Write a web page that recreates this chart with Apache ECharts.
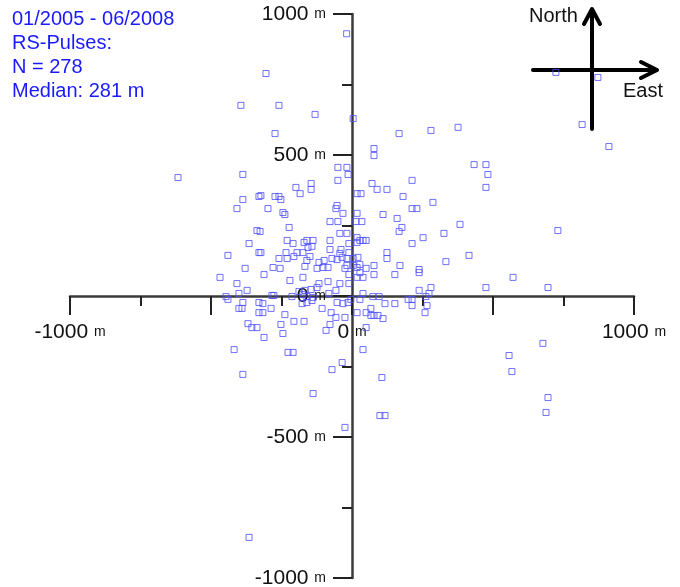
<!DOCTYPE html>
<html>
<head>
<meta charset="utf-8">
<script src="https://cdn.jsdelivr.net/npm/echarts@6/dist/echarts.min.js"></script>
<style>
html, body { margin: 0; padding: 0; background: #fff; }
#main { width: 680px; height: 587px; }
</style>
</head>
<body>
<div id="main"></div>
<script>
// legend text in the upper left
var infoLines = ['01/2005 - 06/2008', 'RS-Pulses:', 'N = 278', 'Median: 281 m'];

// labelled ticks (metres)
var xLabelValues = [-1000, 0, 1000];
var yLabelValues = [-1000, -500, 0, 500, 1000];

// pulse offsets in metres: east (x) and north (y)
var east = [
  -19, 4, -131, 167, 280, 376, 78, 78, -50, -18,
  -305, -394, -259, -273, 723, 872, 816, 911, 433, 475,
  482, 475, 383, 730, 415, 571, 475, 695, 677, 557,
  567, 695, 688, -387, -71, 106, -138, 99, 117, -25,
  -365, -617, -387, -330, -387, -408, -337, -365, -330, -440,
  -379, -468, -408, -372, -401, -447, -440, -330, -387, -401,
  -390, -330, -369, -355, -337, -418, -14, -50, -323, -199,
  -184, -145, -145, -273, -259, -252, 18, -298, -245, -238,
  -53, -57, -32, 18, -78, -50, 14, -223, -43, -18,
  18, -326, -230, -209, -170, -160, -138, -78, -11, 18,
  -323, -234, -195, -174, -156, -142, -78, -39, -43, -11,
  -259, -230, -206, -149, -71, -53, -35, -18, 4, 21,
  -280, -255, -167, -160, -117, -99, -103, -124, -85, -18,
  4, 18, -25, 213, 71, 89, 124, 32, 181, 287,
  213, 230, 110, 160, 35, 177, 167, 326, 252, 28,
  39, 50, 213, 124, 124, 28, 78, 170, 333, 50,
  238, -312, -220, -174, -85, -43, -11, -11, 18, -117,
  -124, -145, -167, -188, -82, -57, -284, -277, -213, -174,
  -160, -177, -160, -142, -138, -53, -32, -14, -4, -316,
  -316, -287, -106, -74, 18, -238, -57, -25, -206, -170,
  -78, -252, -92, -245, -312, -227, -209, -35, 28, 39,
  78, 152, 238, 39, 74, 96, 28, 117, 152, 199,
  213, 213, 238, 280, 273, 262, 266, 259, 50, 67,
  67, 78, 92, 110, 50, 39
];
var north = [
  930, 629, 644, 576, 587, 598, 523, 498, 456, 456,
  789, 676, 676, 576, 793, 775, 608, 530, 466, 466,
  431, 385, 254, 232, 144, 66, 30, 30, -168, -211,
  -268, -360, -413, -278, -261, -289, -346, -424, -424, -466,
  -856, 420, 431, 353, 342, 310, 232, 186, 154, 144,
  98, 66, 44, 20, 9, -2, -12, -23, -23, -44,
  -44, -59, -98, -112, -112, -190, 431, 410, 356, 385,
  363, 399, 378, 353, 353, 342, 363, 310, 296, 289,
  321, 310, 293, 293, 264, 264, 264, 243, 222, 222,
  207, 229, 197, 186, 190, 197, 197, 197, 186, 190,
  154, 154, 154, 154, 172, 176, 165, 165, 151, 154,
  133, 133, 140, 140, 133, 129, 137, 133, 133, 137,
  101, 98, 105, 126, 119, 126, 101, 98, 101, 108,
  108, 101, 98, 410, 399, 378, 378, 363, 353, 332,
  310, 310, 289, 275, 264, 243, 229, 222, 207, 197,
  197, 197, 186, 154, 133, 112, 108, 108, 122, 98,
  94, 76, 55, 66, 51, 44, 76, 44, 66, 44,
  30, 23, 20, 16, 9, 20, 2, 2, -2, 5,
  -2, -27, -23, -16, -5, -23, -27, -23, -12, -27,
  -59, -44, -44, -59, -59, -66, -76, -76, -90, -90,
  -101, -101, -122, -133, -147, -200, -200, -236, 83, 66,
  76, 76, 83, 9, -2, -2, -12, -27, -27, -12,
  -12, -34, 20, 30, 9, -2, -34, -59, -59, -44,
  -69, -69, -69, -80, -112, -190
];

var points = [];
for (var i = 0; i < east.length; i++) {
  points.push([east[i], north[i]]);
}

var chart = echarts.init(document.getElementById('main'));

function unitLabel(v) {
  return '{n|' + v + ' }{u|m}';
}

var labelRich = {
  n: { fontSize: 21, color: '#111', fontFamily: 'Liberation Sans, Arial, sans-serif' },
  u: { fontSize: 14, color: '#111', fontFamily: 'Liberation Sans, Arial, sans-serif' }
};

// axes cross in the middle of the square plot: move them in by half the plot size
var plotSize = 564;

var option = {
  animation: false,
  backgroundColor: '#fff',
  textStyle: { fontFamily: 'Liberation Sans, Arial, sans-serif' },
  title: {
    text: infoLines.join('\n'),
    left: 12,
    top: 7,
    padding: 0,
    textStyle: { color: '#1a1aff', fontSize: 20, fontWeight: 'normal', lineHeight: 24 }
  },
  grid: {
    left: 70, right: 46, top: 14, bottom: 9,
    containLabel: false,
    outerBoundsMode: 'none'
  },
  xAxis: {
    type: 'value',
    position: 'bottom',
    offset: -plotSize / 2,
    min: -1000, max: 1000, interval: 500,
    splitLine: { show: false },
    axisLine: { onZero: false, lineStyle: { color: '#3a3a3a', width: 2.5 } },
    axisTick: { length: 19, lineStyle: { color: '#222', width: 2 } },
    minorTick: { show: true, splitNumber: 2, length: 10, lineStyle: { color: '#222', width: 2 } },
    axisLabel: {
      margin: 26,
      formatter: function (v) {
        return xLabelValues.indexOf(v) >= 0 ? unitLabel(v) : '';
      },
      rich: labelRich
    }
  },
  yAxis: {
    type: 'value',
    position: 'left',
    offset: -plotSize / 2,
    min: -1000, max: 1000, interval: 500,
    splitLine: { show: false },
    axisLine: { onZero: false, lineStyle: { color: '#3a3a3a', width: 2.5 } },
    axisTick: { length: 19, lineStyle: { color: '#222', width: 2 } },
    minorTick: { show: true, splitNumber: 2, length: 10, lineStyle: { color: '#222', width: 2 } },
    axisLabel: {
      margin: 26,
      formatter: function (v) {
        return yLabelValues.indexOf(v) >= 0 ? unitLabel(v) : '';
      },
      rich: labelRich
    }
  },
  graphic: [
    { type: 'line', shape: { x1: 592, y1: 129, x2: 592, y2: 10 }, style: { stroke: '#000', lineWidth: 4, lineCap: 'round' } },
    { type: 'polyline', shape: { points: [[584, 24], [592, 9], [600, 24]] }, style: { stroke: '#000', lineWidth: 4, lineCap: 'round', lineJoin: 'round', fill: null } },
    { type: 'line', shape: { x1: 533, y1: 70, x2: 655, y2: 70 }, style: { stroke: '#000', lineWidth: 4, lineCap: 'round' } },
    { type: 'polyline', shape: { points: [[641, 62], [657, 70], [641, 78]] }, style: { stroke: '#000', lineWidth: 4, lineCap: 'round', lineJoin: 'round', fill: null } },
    { type: 'text', left: 529, top: 6, style: { text: 'North', fill: '#111', fontSize: 20, fontFamily: 'Liberation Sans, Arial, sans-serif' } },
    { type: 'text', left: 623, top: 81, style: { text: 'East', fill: '#111', fontSize: 20, fontFamily: 'Liberation Sans, Arial, sans-serif' } }
  ],
  series: [{
    type: 'scatter',
    data: points,
    symbol: 'rect',
    symbolSize: 6,
    itemStyle: { color: 'rgba(255,255,255,0)', borderColor: '#4d4dff', borderWidth: 1 }
  }]
};

chart.setOption(option);
window.onresize = function () {
  chart.resize();
};
</script>
</body>
</html>
